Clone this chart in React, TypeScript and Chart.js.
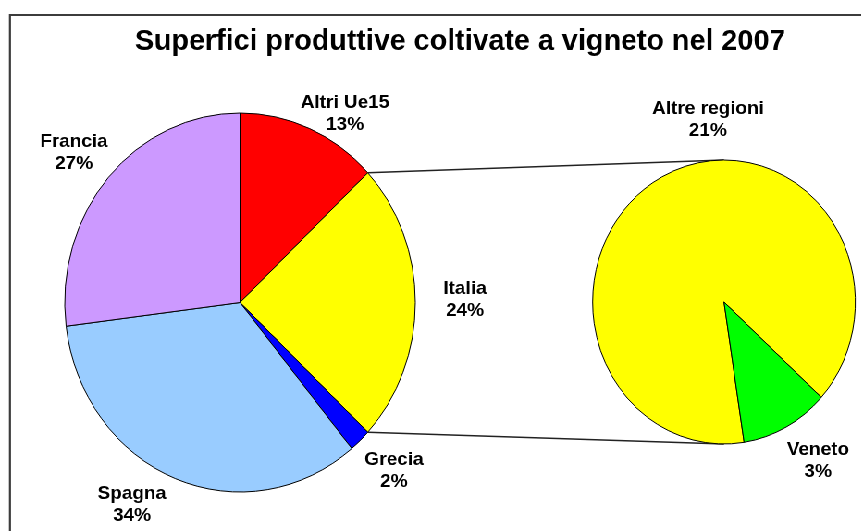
import React, { useEffect, useRef } from "react";
import { Chart, registerables } from "chart.js";

Chart.register(...registerables);

// ---- data ----
const titleText = "Superfici produttive coltivate a vigneto nel 2007";
const mainLabels = ["Altri Ue15", "Italia", "Grecia", "Spagna", "Francia"];
const mainValues = [13, 24, 2, 34, 27];
const mainColors = ["#FF0000", "#FFFF00", "#0000FF", "#99CCFF", "#CC99FF"];
const splitIndex = 1; // Italia is exploded into the second pie
const detailLabels = ["Altre regioni", "Veneto"];
const detailValues = [21.4, 2.6];
const detailColors = ["#FFFF00", "#00FF00"];

// ---- layout ----
const SX = 0.925; // horizontal squeeze (pies are slightly elliptical)
const W = 931;
const H = 531;
const MAIN = { cx: 259.5, cy: 302.5, r: 189.5 };
const DETAIL = { cx: 782.7, cy: 302, r: 142, rotation: 171.2 };
const mainLabelOffsets = [
  [113.5, -190.5],
  [243.2, -4.5],
  [166.4, 166.5],
  [-116.8, 200.5],
  [-179.5, -151.5],
];
const detailLabelOffsets = [
  [-17.3, -184],
  [101.6, 157],
];
const TITLE_FONT = "bold 28.7px 'Liberation Sans', Arial, sans-serif";
const LABEL_FONT = "bold 19px 'Liberation Sans', Arial, sans-serif";

function drawText(ctx: CanvasRenderingContext2D, text: string, x: number, y: number, font: string) {
  ctx.save();
  ctx.translate(x, y);
  ctx.scale(1 / SX, 1);
  ctx.font = font;
  ctx.fillStyle = "#000";
  ctx.textAlign = "center";
  ctx.textBaseline = "alphabetic";
  ctx.fillText(text, 0, 0);
  ctx.restore();
}

function drawLabels(chart: any, labels: string[], values: number[], offsets: number[][]) {
  const ctx = chart.ctx as CanvasRenderingContext2D;
  const meta = chart.getDatasetMeta(0);
  meta.data.forEach((arc: any, i: number) => {
    const x = arc.x + offsets[i][0];
    const y = arc.y + offsets[i][1];
    drawText(ctx, labels[i], x, y - 4, LABEL_FONT);
    drawText(ctx, Math.round(values[i]) + "%", x, y + 18, LABEL_FONT);
  });
}

export default function App() {
  const refA = useRef<HTMLCanvasElement>(null);
  const refB = useRef<HTMLCanvasElement>(null);

  useEffect(() => {
    const framePlugin = {
      id: "frame",
      beforeDraw(chart: any) {
        const ctx = chart.ctx as CanvasRenderingContext2D;
        ctx.save();
        ctx.fillStyle = "#fff";
        ctx.fillRect(0, 0, W, H);
        ctx.strokeStyle = "#3c3c3c";
        ctx.lineWidth = 2.2;
        ctx.beginPath();
        ctx.moveTo(10.8, H + 5);
        ctx.lineTo(10.8, 15);
        ctx.lineTo(W + 5, 15);
        ctx.stroke();
        ctx.restore();
        drawText(ctx, titleText, 497.3, 50, TITLE_FONT);
      },
      afterDatasetsDraw(chart: any) {
        drawLabels(chart, mainLabels, mainValues, mainLabelOffsets);
      },
    };

    const chartA = new Chart(refA.current!, {
      type: "pie",
      data: {
        labels: mainLabels,
        datasets: [
          {
            data: mainValues,
            backgroundColor: mainColors,
            borderColor: "#000",
            borderWidth: 1,
          },
        ],
      },
      options: {
        animation: false,
        responsive: false,
        events: [],
        radius: MAIN.r,
        layout: {
          padding: {
            left: MAIN.cx - MAIN.r,
            right: W - (MAIN.cx + MAIN.r),
            top: MAIN.cy - MAIN.r,
            bottom: H - (MAIN.cy + MAIN.r),
          },
        },
        plugins: { legend: { display: false }, tooltip: { enabled: false } },
      } as any,
      plugins: [framePlugin],
    });

    const connectorPlugin = {
      id: "connector",
      beforeDatasetsDraw(chart: any) {
        const ctx = chart.ctx as CanvasRenderingContext2D;
        const arc: any = chartA.getDatasetMeta(0).data[splitIndex];
        const b: any = chart.getDatasetMeta(0).data[0];
        const R = arc.outerRadius;
        const p1 = [arc.x + Math.cos(arc.startAngle) * R, arc.y + Math.sin(arc.startAngle) * R];
        const p2 = [arc.x + Math.cos(arc.endAngle) * R, arc.y + Math.sin(arc.endAngle) * R];
        ctx.save();
        ctx.strokeStyle = "#222";
        ctx.lineWidth = 1.5;
        ctx.beginPath();
        ctx.moveTo(p1[0], p1[1]);
        ctx.lineTo(b.x, b.y - b.outerRadius);
        ctx.moveTo(p2[0], p2[1]);
        ctx.lineTo(b.x, b.y + b.outerRadius);
        ctx.stroke();
        ctx.restore();
      },
      afterDatasetsDraw(chart: any) {
        drawLabels(chart, detailLabels, detailValues, detailLabelOffsets);
      },
    };

    const chartB = new Chart(refB.current!, {
      type: "pie",
      data: {
        labels: detailLabels,
        datasets: [
          {
            data: detailValues,
            backgroundColor: detailColors,
            borderColor: "#000",
            borderWidth: 1,
          },
        ],
      },
      options: {
        animation: false,
        responsive: false,
        events: [],
        radius: DETAIL.r,
        rotation: DETAIL.rotation,
        layout: {
          padding: {
            left: DETAIL.cx - DETAIL.r,
            right: W - (DETAIL.cx + DETAIL.r),
            top: DETAIL.cy - DETAIL.r,
            bottom: H - (DETAIL.cy + DETAIL.r),
          },
        },
        plugins: { legend: { display: false }, tooltip: { enabled: false } },
      } as any,
      plugins: [connectorPlugin],
    });

    return () => {
      chartB.destroy();
      chartA.destroy();
    };
  }, []);

  return (
    <div
      style={{
        position: "fixed",
        left: 0,
        top: 0,
        width: W,
        height: H,
        transform: `scaleX(${SX})`,
        transformOrigin: "0 0",
        background: "#fff",
      }}
    >
      <canvas ref={refA} width={W} height={H} style={{ position: "absolute", left: 0, top: 0 }} />
      <canvas ref={refB} width={W} height={H} style={{ position: "absolute", left: 0, top: 0 }} />
    </div>
  );
}
